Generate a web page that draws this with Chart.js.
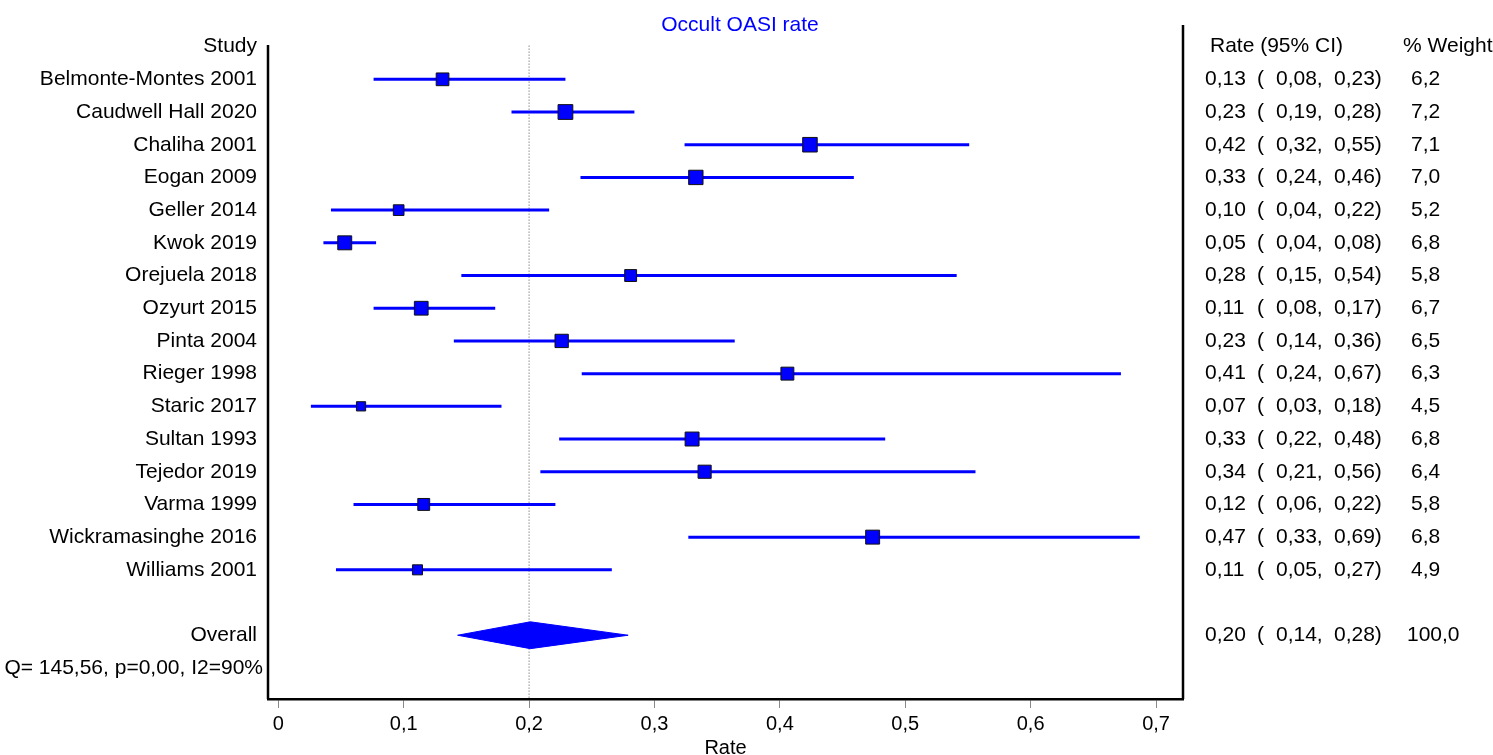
<!DOCTYPE html>
<html>
<head>
<meta charset="utf-8">
<script src="https://cdn.jsdelivr.net/npm/chart.js@4.4.0/dist/chart.umd.min.js"></script>
<style>
  body { margin: 0; background: #fff; }
  #wrap { width: 1493px; height: 755px; position: relative; }
</style>
</head>
<body>
<div id="wrap"><canvas id="forest"></canvas></div>
<script>
// dados do forest plot
const studies = ['Belmonte-Montes 2001', 'Caudwell Hall 2020', 'Chaliha 2001', 'Eogan 2009', 'Geller 2014',
  'Kwok 2019', 'Orejuela 2018', 'Ozyurt 2015', 'Pinta 2004', 'Rieger 1998', 'Staric 2017', 'Sultan 1993',
  'Tejedor 2019', 'Varma 1999', 'Wickramasinghe 2016', 'Williams 2001']
const rates = [0.131, 0.229, 0.424, 0.333, 0.096, 0.053, 0.281, 0.114, 0.226, 0.406, 0.066, 0.330, 0.340, 0.116, 0.474, 0.111]
const lower = [0.076, 0.186, 0.324, 0.241, 0.042, 0.036, 0.146, 0.076, 0.140, 0.242, 0.026, 0.224, 0.209, 0.060, 0.327, 0.046]
const upper = [0.229, 0.284, 0.551, 0.459, 0.216, 0.078, 0.541, 0.173, 0.364, 0.672, 0.178, 0.484, 0.556, 0.221, 0.687, 0.266]
const weights = [6.2, 7.2, 7.1, 7.0, 5.2, 6.8, 5.8, 6.7, 6.5, 6.3, 4.5, 6.8, 6.4, 5.8, 6.8, 4.9]

const overall = [0.143, 0.201, 0.279]   // lo, rate, hi
const overallWeight = 100.0
const refValue = 0.2
const heterogeneity = 'Q= 145,56, p=0,00, I2=90%'

const tickValues = [0, 0.1, 0.2, 0.3, 0.4, 0.5, 0.6, 0.7]
const tickLabels = ['0', '0,1', '0,2', '0,3', '0,4', '0,5', '0,6', '0,7']

const BLUE = '#0000ff'
const FONT = '"Liberation Sans", Arial, sans-serif'
const OVERALL_ROW = studies.length + 2
const Q_ROW = OVERALL_ROW + 1

function fmt(v, d) { return v.toFixed(d).replace('.', ',') }

var datasets = []

// quadrados (estimativas)
datasets.push({
  type: 'scatter',
  data: rates.map((r, i) => ({ x: r, y: i + 1 })),
  pointStyle: 'rect',
  pointRadius: weights.map(w => w * 1.45),
  backgroundColor: BLUE,
  borderColor: '#111',
  borderWidth: 1,
  order: 0
})

// intervalos de confianca
for (var i = 0; i < studies.length; i++) {
  datasets.push({
    type: 'scatter',
    showLine: true,
    data: [{ x: lower[i], y: i + 1 }, { x: upper[i], y: i + 1 }],
    borderColor: BLUE,
    borderWidth: 3,
    pointRadius: 0,
    order: 1
  })
}

// diamante do resultado global
const dh = 0.41
datasets.push({
  type: 'scatter',
  showLine: true,
  data: [
    { x: overall[0], y: OVERALL_ROW },
    { x: overall[1], y: OVERALL_ROW - dh },
    { x: overall[2], y: OVERALL_ROW },
    { x: overall[1], y: OVERALL_ROW + dh },
    { x: overall[0], y: OVERALL_ROW }
  ],
  borderColor: BLUE,
  borderWidth: 1,
  backgroundColor: BLUE,
  fill: 'shape',
  pointRadius: 0,
  order: 1
})

// linha pontilhada de referencia
datasets.push({
  type: 'scatter',
  showLine: true,
  data: [{ x: refValue, y: -0.03 }, { x: refValue, y: 20 }],
  borderColor: '#555',
  borderWidth: 1,
  borderDash: [1, 2],
  pointRadius: 0,
  order: 2
})

const textPlugin = {
  id: 'forestText',
  afterDraw(chart) {
    const c = chart.ctx
    const ys = chart.scales.y
    const area = chart.chartArea
    c.save()

    // bordas esquerda e direita
    c.strokeStyle = '#000'
    c.lineWidth = 2.5
    c.beginPath()
    c.moveTo(area.left, 45)
    c.lineTo(area.left, area.bottom)
    c.moveTo(area.right, 25)
    c.lineTo(area.right, area.bottom)
    c.stroke()

    c.textBaseline = 'middle'
    c.font = '21px ' + FONT

    // titulo
    c.fillStyle = BLUE
    c.textAlign = 'center'
    c.fillText('Occult OASI rate', 740, 25)

    c.fillStyle = '#000'
    c.textAlign = 'right'
    c.fillText('Study', 257, ys.getPixelForValue(0))
    for (var i = 0; i < studies.length; i++) {
      c.fillText(studies[i], 257, ys.getPixelForValue(i + 1))
    }
    c.fillText('Overall', 257, ys.getPixelForValue(OVERALL_ROW))
    c.fillText(heterogeneity, 263, ys.getPixelForValue(Q_ROW))

    c.textAlign = 'left'
    c.fillText('Rate (95% CI)', 1210, ys.getPixelForValue(0))
    c.fillText('% Weight', 1403, ys.getPixelForValue(0))

    function row(y, r, lo, hi, w, wx) {
      c.fillText(fmt(r, 2), 1205, y)
      c.fillText('(', 1257, y)
      c.fillText(fmt(lo, 2) + ',', 1276, y)
      c.fillText(fmt(hi, 2) + ')', 1334, y)
      c.fillText(fmt(w, 1), wx, y)
    }
    for (var i = 0; i < studies.length; i++) {
      row(ys.getPixelForValue(i + 1), rates[i], lower[i], upper[i], weights[i], 1411)
    }
    row(ys.getPixelForValue(OVERALL_ROW), overall[1], overall[0], overall[2], overallWeight, 1407)

    c.restore()
  }
}

const ctx = document.getElementById('forest')
var chartForest = new Chart(ctx, {
  type: 'scatter',
  data: { datasets: datasets },
  options: {
    responsive: true,
    maintainAspectRatio: false,
    animation: false,
    layout: { padding: { left: 268, right: 310, top: 27, bottom: 0 } },
    plugins: { legend: { display: false }, tooltip: { enabled: false } },
    scales: {
      x: {
        type: 'linear',
        min: -0.0082,
        max: 0.7215,
        afterBuildTicks: s => { s.ticks = tickValues.map(v => ({ value: v })) },
        afterFit: s => { s.height = 56 },
        ticks: {
          autoSkip: false,
          maxRotation: 0,
          padding: 4,
          color: '#000',
          font: { family: FONT, size: 20 },
          callback: (v, idx) => tickLabels[idx]
        },
        grid: { display: true, drawOnChartArea: false, drawTicks: true, tickLength: 9, tickColor: '#888', tickWidth: 1 },
        border: { display: true, color: '#000', width: 2.5 },
        title: { display: true, text: 'Rate', color: '#000', font: { family: FONT, size: 20, lineHeight: 1 }, padding: { top: 0, bottom: -3 } }
      },
      y: {
        type: 'linear',
        display: false,
        reverse: true,
        min: -0.6,
        max: 19.95
      }
    }
  },
  plugins: [textPlugin]
})
</script>
</body>
</html>
